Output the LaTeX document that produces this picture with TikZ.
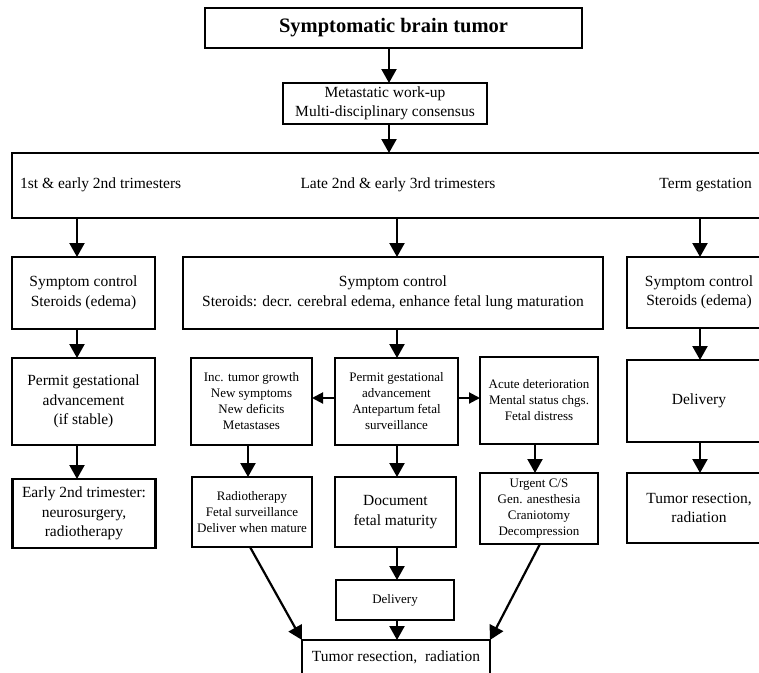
\documentclass[tikz,border=0pt]{standalone}
\usepackage{fontspec}
\setmainfont{Liberation Serif}
\usetikzlibrary{arrows.meta}
\newcommand{\fmain}{\fontsize{15.5pt}{19.5pt}\selectfont}
\newcommand{\fsmall}{\fontsize{13pt}{16pt}\selectfont}
\newcommand{\ftitle}{\fontsize{20.5pt}{24pt}\selectfont\bfseries}
\begin{document}
\begin{tikzpicture}[x=1pt,y=-1pt,
  box/.style={draw, line width=2.4pt, inner sep=0pt, outer sep=0pt, align=center, font=\fmain},
  sbox/.style={box, font=\fsmall},
  arr/.style={line width=2.2pt, -{Triangle[length=14pt,width=15pt]}},
  sarr/.style={line width=2pt, -{Triangle[length=11pt,width=11pt]}},
  lbl/.style={inner sep=0pt, font=\fmain}]
\useasboundingbox (0,0) rectangle (759,672);
\fill[white] (0,0) rectangle (759,672);
\clip (0,0) rectangle (759,672);

% column axes for connectors
\coordinate (ax) at (389,0);
\coordinate (c1) at (77,0);
\coordinate (c2) at (397,0);
\coordinate (c3) at (700,0);
\coordinate (c4) at (248,0);
\coordinate (c5) at (535,0);
\coordinate (dl) at (250,0);
\coordinate (dr) at (540,0);
\coordinate (hy) at (0,398);

% top
\node[box, font=\ftitle, minimum width=377pt, minimum height=40pt] (top) at (393.5,28) {Symptomatic brain tumor};
\node[box, minimum width=204pt, minimum height=41pt] (meta) at (385,103.5) {Metastatic work-up\\Multi-disciplinary consensus};
\node[draw, line width=2pt, inner sep=0pt, outer sep=0pt, minimum width=753pt, minimum height=65pt] (stage) at (388.5,185.5) {};
\node[lbl, anchor=west] (t1) at (20,185) {1st \& early 2nd trimesters};
\node[lbl] (t2) at (398,185) {Late 2nd \& early 3rd trimesters};
\node[lbl, anchor=east] (t3) at (752,185) {Term gestation};

% left column
\node[box, minimum width=143pt, minimum height=72pt] (s1) at (83.5,293) {Symptom control\\Steroids (edema)};
\node[box, minimum width=143pt, minimum height=87pt] (p1) at (83.5,401.5) {Permit gestational\\advancement\\(if stable)};
\node[box, minimum width=143pt, minimum height=69pt] (e1) at (84,513.5) {Early 2nd trimester:\\neurosurgery,\\radiotherapy};

% middle column
\node[box, minimum width=420pt, minimum height=72pt] (s2) at (393,293) {Symptom control\\Steroids: decr. cerebral edema, enhance fetal lung maturation};
\node[sbox, minimum width=121pt, minimum height=87pt] (inc) at (251.5,401.5) {Inc. tumor growth\\New symptoms\\New deficits\\Metastases};
\node[sbox, minimum width=123pt, minimum height=87pt] (pm) at (396.5,401.5) {Permit gestational\\advancement\\Antepartum fetal\\surveillance};
\node[sbox, minimum width=118pt, minimum height=87pt] (acute) at (539,400.5) {Acute deterioration\\Mental status chgs.\\Fetal distress};
\node[sbox, minimum width=120pt, minimum height=70pt] (radio) at (252,512) {Radiotherapy\\Fetal surveillance\\Deliver when mature};
\node[box, minimum width=121pt, minimum height=70pt] (doc) at (395.5,512) {Document\\fetal maturity};
\node[sbox, minimum width=118pt, minimum height=71pt] (urg) at (539,508.5) {Urgent C/S\\Gen. anesthesia\\Craniotomy\\Decompression};
\node[sbox, minimum width=118pt, minimum height=40pt] (del) at (395,600) {Delivery};
\node[box, minimum width=188pt, minimum height=34pt] (bot) at (396,657) {Tumor resection,\ \ radiation};

% right column
\node[box, minimum width=144pt, minimum height=71pt] (s3) at (699,292.5) {Symptom control\\Steroids (edema)};
\node[box, minimum width=144pt, minimum height=82pt] (d3) at (699,401) {Delivery};
\node[box, minimum width=144pt, minimum height=70pt] (r3) at (699,508) {Tumor resection,\\radiation};

% connectors
\draw[arr] (top.south -| ax) -- (meta.north -| ax);
\draw[arr] (meta.south -| ax) -- (stage.north -| ax);
\draw[arr] (stage.south -| c1) -- (s1.north -| c1);
\draw[arr] (stage.south -| c2) -- (s2.north -| c2);
\draw[arr] (stage.south -| c3) -- (s3.north -| c3);
\draw[arr] (s1.south -| c1) -- (p1.north -| c1);
\draw[arr] (p1.south -| c1) -- (e1.north -| c1);
\draw[arr] (s2.south -| c2) -- (pm.north -| c2);
\draw[sarr] (pm.west |- hy) -- (inc.east |- hy);
\draw[sarr] (pm.east |- hy) -- (acute.west |- hy);
\draw[arr] (inc.south -| c4) -- (radio.north -| c4);
\draw[arr] (pm.south -| c2) -- (doc.north -| c2);
\draw[arr] (acute.south -| c5) -- (urg.north -| c5);
\draw[arr] (doc.south -| c2) -- (del.north -| c2);
\draw[arr] (del.south -| c2) -- (bot.north -| c2);
\draw[arr] (radio.south -| dl) -- (bot.north west);
\draw[arr] (urg.south -| dr) -- (bot.north east);
\draw[arr] (s3.south -| c3) -- (d3.north -| c3);
\draw[arr] (d3.south -| c3) -- (r3.north -| c3);
\end{tikzpicture}
\end{document}
